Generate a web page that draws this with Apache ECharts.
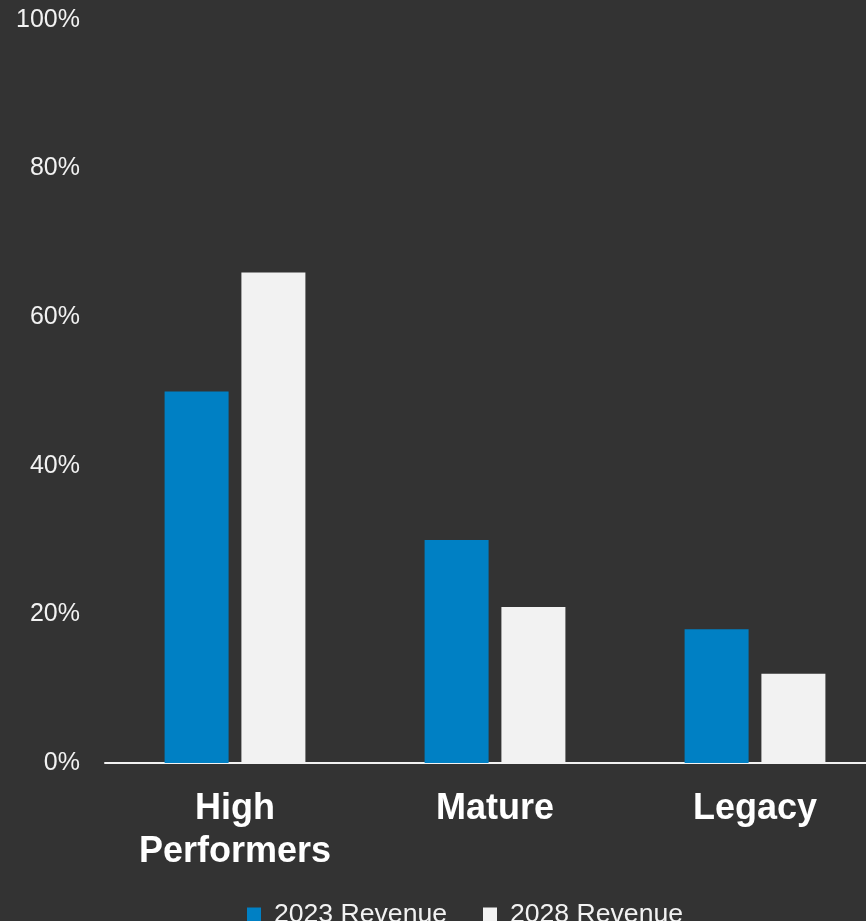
<!DOCTYPE html>
<html><head><meta charset="utf-8">
<script src="https://cdn.jsdelivr.net/npm/echarts@6/dist/echarts.min.js"></script>
<style>html,body{margin:0;padding:0;background:#333333;overflow:hidden;width:866px;height:921px;}#c{width:885px;height:921px;}</style>
</head><body><div id="c"></div>
<script>
const categories = ['High\nPerformers', 'Mature', 'Legacy'];
const rev2023 = [50, 30, 18];
const rev2028 = [66, 21, 12];
const seriesNames = ['2023 Revenue', '2028 Revenue'];
const chart = echarts.init(document.getElementById('c'));
chart.setOption({
  backgroundColor: '#333333',
  animation: false,
  grid: {left: 105, right: 0, top: 20, bottom: 158, containLabel: false},
  legend: {
    data: seriesNames, top: 896, left: 242, itemWidth: 14, itemHeight: 14, itemGap: 36,
    icon: 'rect',
    textStyle: {color: '#f2f2f2', fontSize: 26.6, fontFamily: 'Liberation Sans', padding: [0, 0, 0, 8]}
  },
  xAxis: {
    type: 'category', data: categories,
    axisLine: {lineStyle: {color: '#f2f2f2', width: 2}},
    axisTick: {show: false},
    axisLabel: {color: '#ffffff', fontSize: 36, fontWeight: 'bold', fontFamily: 'Liberation Sans', lineHeight: 43, margin: 25}
  },
  yAxis: {
    type: 'value', min: 0, max: 100, interval: 20,
    axisLabel: {formatter: '{value}%', color: '#f2f2f2', fontSize: 25, fontFamily: 'Liberation Sans', margin: 25, verticalAlign: 'middle', lineHeight: 30, padding: [4, 0, 0, 0]},
    splitLine: {show: false}, axisLine: {show: false}, axisTick: {show: false}
  },
  series: [
    {name: seriesNames[0], type: 'bar', data: rev2023, barWidth: 64, barGap: '20%', itemStyle: {color: '#0080c4'}},
    {name: seriesNames[1], type: 'bar', data: rev2028, barWidth: 64, barGap: '20%', itemStyle: {color: '#f2f2f2'}}
  ]
});
</script></body></html>
